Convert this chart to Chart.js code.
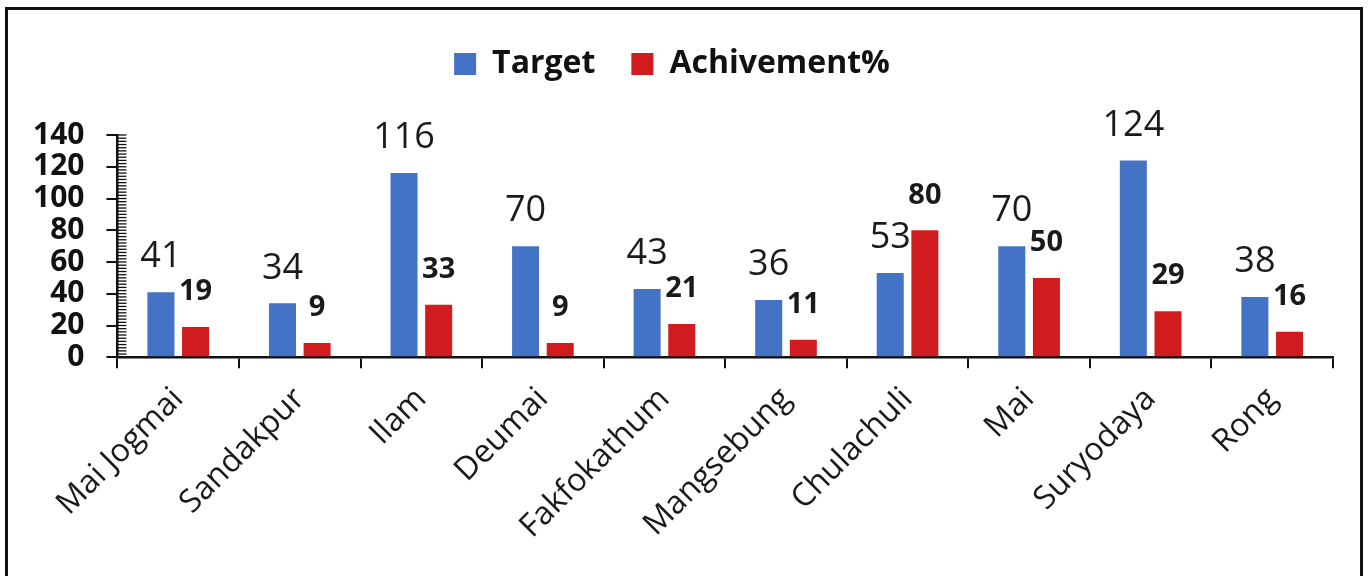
<!DOCTYPE html>
<html>
<head>
<meta charset="utf-8">
<script src="https://cdn.jsdelivr.net/npm/chart.js@4.4.1/dist/chart.umd.min.js"></script>
<style>
  html, body { margin: 0; padding: 0; background: #fff; }
  .wrap { position: relative; width: 1370px; height: 576px; }
  .frame {
    position: absolute; left: 5px; top: 7px; width: 1352px; height: 566px;
    border: 3px solid #111; border-bottom: 2px solid #e4f2f2; pointer-events: none;
  }
</style>
</head>
<body>
<div class="wrap">
  <canvas id="myChart" width="1370" height="576"></canvas>
  <div class="frame"></div>
</div>
<script>
const places = ["Mai Jogmai","Sandakpur","Ilam","Deumai","Fakfokathum","Mangsebung","Chulachuli","Mai","Suryodaya","Rong"];
const target = [41,34,116,70,43,36,53,70,124,38];
const achievement = [19,9,33,9,21,11,80,50,29,16];
const yTicks = [0,20,40,60,80,100,120,140];

const FONT = "'Open Sans', 'DejaVu Sans', sans-serif";

// push the plot down below the legend
const legendGap = {
    id: "legendGap",
    beforeInit(chart) {
        const fit = chart.legend.fit;
        chart.legend.fit = function () {
            fit.bind(chart.legend)();
            this.height += 45;
        };
    }
};

// small ticks every 2 units on the inside of the y axis
const minorTicks = {
    id: "minorTicks",
    afterDraw(chart) {
        const y = chart.scales.y;
        const ctx = chart.ctx;
        ctx.save();
        ctx.strokeStyle = "#111";
        ctx.lineWidth = 1.3;
        for (let v = y.min; v <= y.max; v += 2) {
            const py = y.getPixelForValue(v);
            ctx.beginPath();
            ctx.moveTo(y.right, py);
            ctx.lineTo(y.right + 9, py);
            ctx.stroke();
        }
        ctx.restore();
    }
};

// value labels above the bars
const valueLabels = {
    id: "valueLabels",
    afterDatasetsDraw(chart) {
        const ctx = chart.ctx;
        ctx.save();
        ctx.fillStyle = "#1a1a1a";
        ctx.textAlign = "center";
        ctx.textBaseline = "middle";
        chart.data.datasets.forEach((ds, i) => {
            const meta = chart.getDatasetMeta(i);
            ctx.font = i === 0 ? "36px " + FONT : "bold 29px " + FONT;
            meta.data.forEach((bar, j) => {
                ctx.fillText(ds.data[j], bar.x, bar.y - 35);
            });
        });
        ctx.restore();
    }
};

new Chart("myChart", {
    type: "bar",
    data: {
        labels: places,
        datasets: [{
            label: "Target",
            data: target,
            backgroundColor: "#4472C4",
            categoryPercentage: 0.57,
            barPercentage: 0.78
        }, {
            label: "Achivement%",
            data: achievement,
            backgroundColor: "#D01C1F",
            categoryPercentage: 0.57,
            barPercentage: 0.78
        }]
    },
    options: {
        responsive: false,
        animation: false,
        layout: { padding: { left: 11, right: 37, top: 12, bottom: 18 } },
        plugins: {
            legend: {
                labels: {
                    boxWidth: 22,
                    boxHeight: 22,
                    padding: 36,
                    color: "#111",
                    font: { family: FONT, size: 32, weight: "bold" }
                }
            },
            tooltip: { enabled: false }
        },
        scales: {
            x: {
                border: { color: "#111", width: 2.5 },
                grid: { drawOnChartArea: false, color: "#111", lineWidth: 2, tickLength: 11 },
                ticks: {
                    minRotation: 45, maxRotation: 45, padding: 12,
                    color: "#1a1a1a",
                    font: { family: FONT, size: 32 }
                }
            },
            y: {
                min: 0,
                max: 140,
                afterBuildTicks(scale) {
                    scale.ticks = yTicks.map(v => ({ value: v }));
                },
                border: { color: "#111", width: 2.5 },
                grid: { drawOnChartArea: false, color: "#111", lineWidth: 2, tickLength: 11 },
                ticks: {
                    autoSkip: false,
                    padding: 22,
                    color: "#111",
                    font: { family: FONT, size: 30, weight: "bold" }
                }
            }
        }
    },
    plugins: [legendGap, minorTicks, valueLabels]
});
</script>
</body>
</html>
